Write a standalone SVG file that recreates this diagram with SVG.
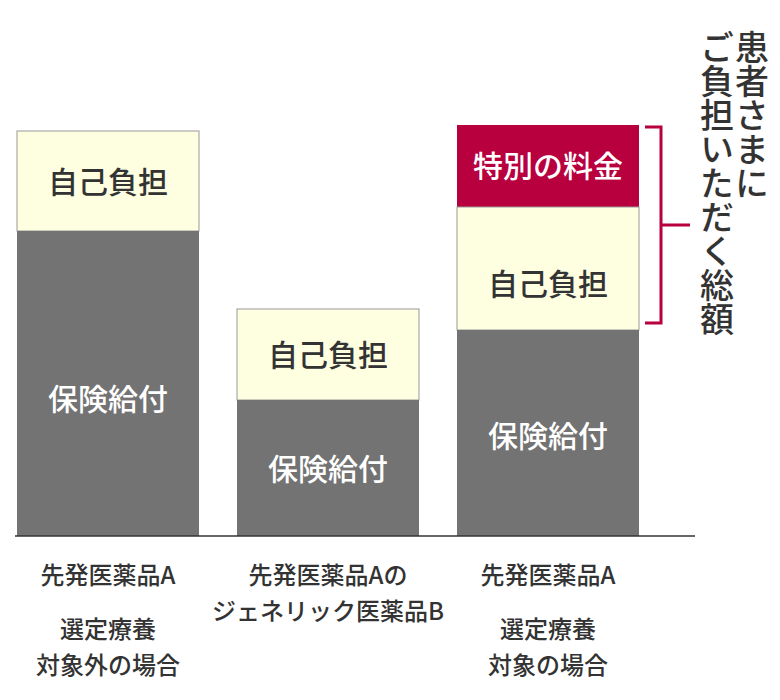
<svg xmlns="http://www.w3.org/2000/svg" width="780" height="700" viewBox="0 0 780 700">
<style>
.g{fill:#737373}.y{fill:#fefee0;stroke:#999;stroke-width:1}.r{fill:#b8003f}
.t{font-family:"Noto Sans CJK JP","Noto Sans",sans-serif;font-size:30px;font-weight:500;text-anchor:middle}
.w{fill:#fff}.k{fill:#333}
.l{font-family:"Noto Sans CJK JP","Noto Sans",sans-serif;font-size:24px;font-weight:500;fill:#333;text-anchor:middle}
.v{font-family:"Noto Sans CJK JP",sans-serif;font-size:34px;fill:#333;writing-mode:vertical-rl;font-weight:500}
</style>
<g id="bar1">
<rect class="y" x="17" y="131" width="182" height="100"/>
<rect class="g" x="17" y="231" width="182" height="305"/>
<text class="t k" x="108" y="193">自己負担</text>
<text class="t w" x="108" y="410">保険給付</text>
</g>
<g id="bar2">
<rect class="y" x="237" y="309" width="182" height="91"/>
<rect class="g" x="237" y="400" width="182" height="136"/>
<text class="t k" x="328" y="366">自己負担</text>
<text class="t w" x="328" y="480">保険給付</text>
</g>
<g id="bar3">
<rect class="r" x="457" y="125" width="182" height="82"/>
<rect class="y" x="457" y="207" width="182" height="123"/>
<rect class="g" x="457" y="330" width="182" height="206"/>
<text class="t w" x="548" y="177">特別の料金</text>
<text class="t k" x="548" y="295">自己負担</text>
<text class="t w" x="548" y="447">保険給付</text>
</g>
<g id="connectors" fill="none">
<line x1="15" y1="536" x2="695" y2="536" stroke="#333" stroke-width="1.5"/>
<path d="M645 127H661V323H645M661 225H690" stroke="#b8003f" stroke-width="3"/>
</g>
<g id="labels">
<text class="l" x="108" y="584">先発医薬品A</text>
<text class="l" x="108" y="638">選定療養</text>
<text class="l" x="108" y="674">対象外の場合</text>
<text class="l" x="328" y="584">先発医薬品Aの</text>
<text class="l" x="328" y="620">ジェネリック医薬品B</text>
<text class="l" x="548" y="584">先発医薬品A</text>
<text class="l" x="548" y="638">選定療養</text>
<text class="l" x="548" y="674">対象の場合</text>
<text class="v" x="752" y="30">患者さまに</text>
<text class="v" x="717" y="30">ご負担いただく総額</text>
</g>
</svg>
